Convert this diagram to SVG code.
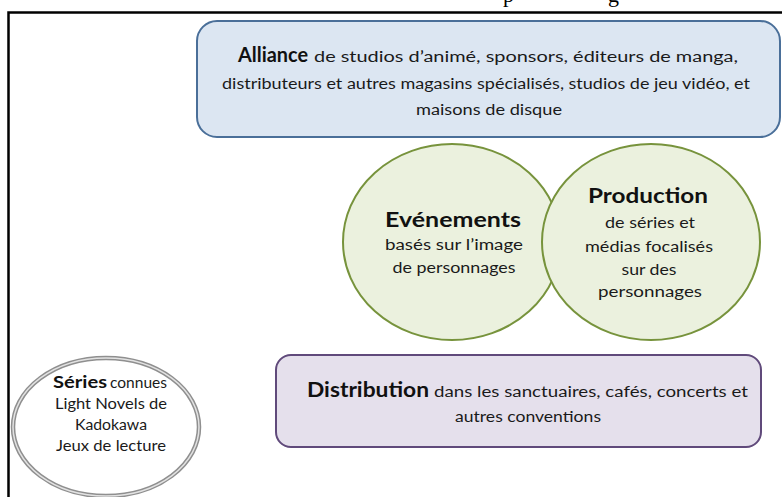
<svg xmlns="http://www.w3.org/2000/svg" width="782" height="497" viewBox="0 0 782 497">
<style>
.t{font-family:Lato,"Open Sans","Liberation Sans",sans-serif;fill:#1a1a1a}
.b{font-weight:bold;fill:#111}
.r{font-size:14.5px}
.c{text-anchor:middle}
.cap{font-family:"Liberation Serif",serif;font-size:22px;fill:#000}
</style>
<rect width="782" height="497" fill="#fff"/>
<text class="cap" x="503" y="2">p</text>
<text class="cap" x="608" y="2">g</text>
<path d="M8.5 497V12.5H782" fill="none" stroke="#000" stroke-width="2.5"/>
<g id="alliance">
<rect x="197" y="21" width="583" height="116" rx="20" fill="#dce6f2" stroke="#4a6f99" stroke-width="2"/>
<text class="t b" x="238" y="62" font-size="21" textLength="70" lengthAdjust="spacingAndGlyphs">Alliance</text>
<text class="t" x="314" y="62" font-size="15.5" textLength="424" lengthAdjust="spacingAndGlyphs">de studios d’animé, sponsors, éditeurs de manga,</text>
<text class="t r" x="222" y="89" textLength="528" lengthAdjust="spacingAndGlyphs">distributeurs et autres magasins spécialisés, studios de jeu vidéo, et</text>
<text class="t r" x="416" y="115" textLength="146" lengthAdjust="spacingAndGlyphs">maisons de disque</text>
</g>
<g id="evenements">
<ellipse cx="452" cy="242" rx="109" ry="98" fill="#ebf1de" stroke="#77933c" stroke-width="2"/>
<text class="t b c" x="453" y="227" font-size="20" textLength="136" lengthAdjust="spacingAndGlyphs">Evénements</text>
<text class="t r c" x="454" y="250" textLength="138" lengthAdjust="spacingAndGlyphs">basés sur l’image</text>
<text class="t r c" x="454" y="273" textLength="123" lengthAdjust="spacingAndGlyphs">de personnages</text>
</g>
<g id="production">
<ellipse cx="651" cy="242" rx="109" ry="98" fill="#ebf1de" stroke="#77933c" stroke-width="2"/>
<text class="t b c" x="648" y="203" font-size="20" textLength="120" lengthAdjust="spacingAndGlyphs">Production</text>
<text class="t r c" x="650" y="228" textLength="90" lengthAdjust="spacingAndGlyphs">de séries et</text>
<text class="t r c" x="649" y="252" textLength="128" lengthAdjust="spacingAndGlyphs">médias focalisés</text>
<text class="t r c" x="649" y="275" textLength="55" lengthAdjust="spacingAndGlyphs">sur des</text>
<text class="t r c" x="650" y="297" textLength="104" lengthAdjust="spacingAndGlyphs">personnages</text>
</g>
<g id="distribution">
<rect x="276" y="355" width="485" height="92" rx="15" fill="#e5e0ec" stroke="#604a7b" stroke-width="2"/>
<text class="t b" x="307" y="397" font-size="20" textLength="122" lengthAdjust="spacingAndGlyphs">Distribution</text>
<text class="t r" x="434" y="397" textLength="314" lengthAdjust="spacingAndGlyphs">dans les sanctuaires, cafés, concerts et</text>
<text class="t r c" x="528" y="422" textLength="146" lengthAdjust="spacingAndGlyphs">autres conventions</text>
</g>
<g id="series">
<ellipse cx="106" cy="427" rx="93" ry="69" fill="#fff" stroke="#8f8f8f" stroke-width="4.5"/>
<ellipse cx="106" cy="427" rx="93" ry="69" fill="none" stroke="#e2e2e2" stroke-width="1.5"/>
<text class="t b" x="53" y="388" font-size="17" textLength="54" lengthAdjust="spacingAndGlyphs">Séries</text>
<text class="t" x="110" y="388" font-size="14.5" textLength="57" lengthAdjust="spacingAndGlyphs">connues</text>
<text class="t r c" x="111" y="409" textLength="112" lengthAdjust="spacingAndGlyphs">Light Novels de</text>
<text class="t r c" x="111" y="430" textLength="72" lengthAdjust="spacingAndGlyphs">Kadokawa</text>
<text class="t r c" x="111" y="451" textLength="110" lengthAdjust="spacingAndGlyphs">Jeux de lecture</text>
</g>
<g id="connectors"/>
</svg>
